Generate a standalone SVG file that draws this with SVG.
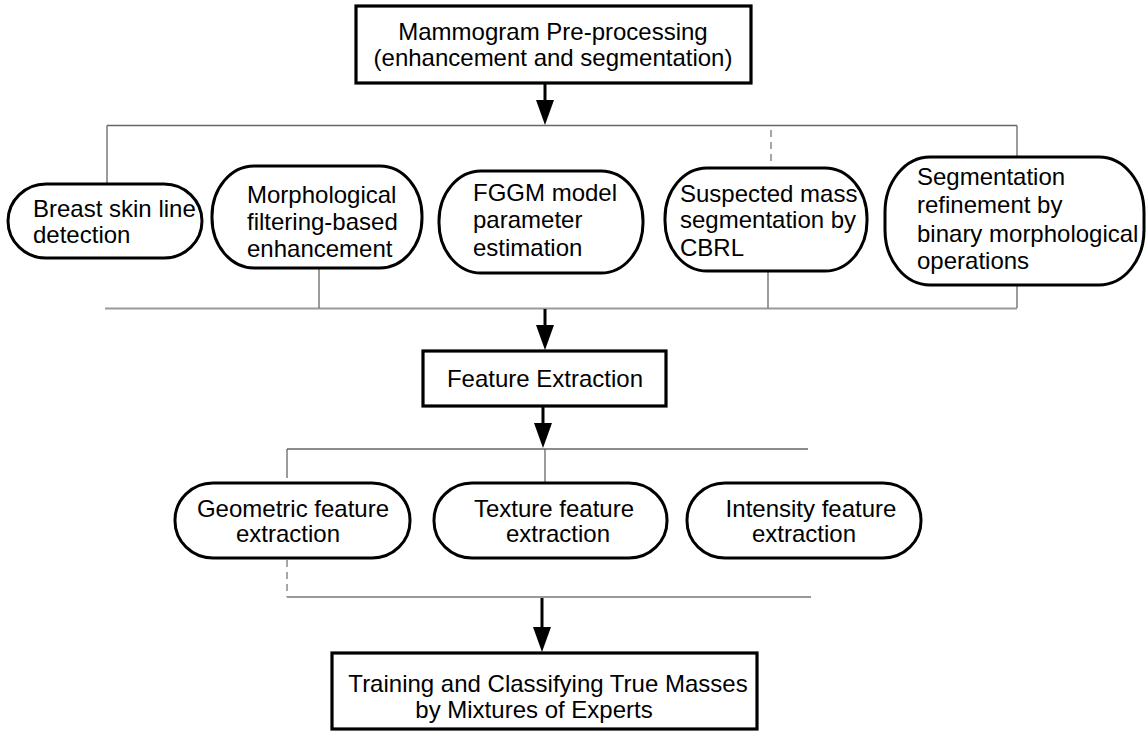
<svg xmlns="http://www.w3.org/2000/svg" width="1146" height="731" viewBox="0 0 1146 731">
<defs>
<marker id="ah" markerUnits="userSpaceOnUse" markerWidth="25" markerHeight="18" refX="13" refY="9" orient="auto">
<path d="M0,0 L25,9 L0,18 z" fill="#000"/>
</marker>
<style>
text{font-family:"Liberation Sans",Arial,Helvetica,sans-serif;font-size:24px;fill:#000}
.c{text-anchor:middle}
.box{fill:#fff;stroke:#000;stroke-width:3.2}
.term{fill:#fff;stroke:#000;stroke-width:3}
.thin{fill:none;stroke:#666;stroke-width:1.3}
.bus{fill:none;stroke:#999;stroke-width:2}
.dash{fill:none;stroke:#777;stroke-width:1.3;stroke-dasharray:7 5}
.arrow{fill:none;stroke:#000;stroke-width:3;marker-end:url(#ah)}
</style>
</defs>
<rect width="1146" height="731" fill="#fff"/>

<g id="connectors">
<path class="thin" d="M107,125.5 H1017"/>
<path class="thin" d="M107,125.5 V184"/>
<path class="dash" d="M771,130 V163"/>
<path class="thin" d="M1017,125.5 V157"/>
<path class="bus" d="M105,308.5 H1017"/>
<path class="thin" d="M319,268 V308"/>
<path class="thin" d="M768,271 V308"/>
<path class="thin" d="M1017,285 V308"/>
<path class="thin" d="M287,449 H808"/>
<path class="thin" d="M287,449 V478"/>
<path class="thin" d="M545,449 V483"/>
<path class="dash" d="M287,560 V597"/>
<path class="bus" d="M287,597 H811"/>
<path class="arrow" d="M545,84 V113"/>
<path class="arrow" d="M545,309 V338"/>
<path class="arrow" d="M543,407 V436"/>
<path class="arrow" d="M542,598 V640"/>
</g>

<g id="preprocessing">
<rect class="box" x="356" y="6" width="395" height="77"/>
<text class="c" x="553" y="40">Mammogram Pre-processing</text>
<text class="c" x="553" y="66">(enhancement and segmentation)</text>
</g>

<g id="skinline">
<rect class="term" x="8" y="184" width="194" height="74" rx="38" ry="37"/>
<text x="33" y="217">Breast skin line</text>
<text x="33" y="243">detection</text>
</g>

<g id="morph">
<rect class="term" x="212" y="166" width="210" height="102" rx="42" ry="50"/>
<text x="247" y="203">Morphological</text>
<text x="247" y="230">filtering-based</text>
<text x="247" y="257">enhancement</text>
</g>

<g id="fggm">
<rect class="term" x="439" y="171" width="204" height="102" rx="42" ry="50"/>
<text x="473" y="201">FGGM model</text>
<text x="473" y="228">parameter</text>
<text x="473" y="256">estimation</text>
</g>

<g id="suspected">
<rect class="term" x="665" y="168" width="202" height="103" rx="42" ry="50"/>
<text x="680" y="202">Suspected mass</text>
<text x="680" y="228">segmentation by</text>
<text x="680" y="256">CBRL</text>
</g>

<g id="refinement">
<rect class="term" x="885" y="157" width="259" height="128" rx="45" ry="55"/>
<text x="917" y="185">Segmentation</text>
<text x="917" y="213">refinement by</text>
<text x="917" y="242">binary morphological</text>
<text x="917" y="269">operations</text>
</g>

<g id="feature-extraction">
<rect class="box" x="423" y="351" width="243" height="55"/>
<text class="c" x="545" y="387">Feature Extraction</text>
</g>

<g id="geometric">
<rect class="term" x="175" y="483" width="235" height="75" rx="38" ry="37"/>
<text class="c" x="293" y="517">Geometric feature</text>
<text class="c" x="288" y="542">extraction</text>
</g>

<g id="texture">
<rect class="term" x="434" y="483" width="233" height="75" rx="38" ry="37"/>
<text class="c" x="554" y="517">Texture feature</text>
<text class="c" x="558" y="542">extraction</text>
</g>

<g id="intensity">
<rect class="term" x="687" y="483" width="234" height="75" rx="38" ry="37"/>
<text class="c" x="811" y="517">Intensity feature</text>
<text class="c" x="804" y="542">extraction</text>
</g>

<g id="classification">
<rect class="box" x="332" y="653" width="425" height="76"/>
<text class="c" x="548" y="692">Training and Classifying True Masses</text>
<text class="c" x="534" y="718">by Mixtures of Experts</text>
</g>
</svg>
